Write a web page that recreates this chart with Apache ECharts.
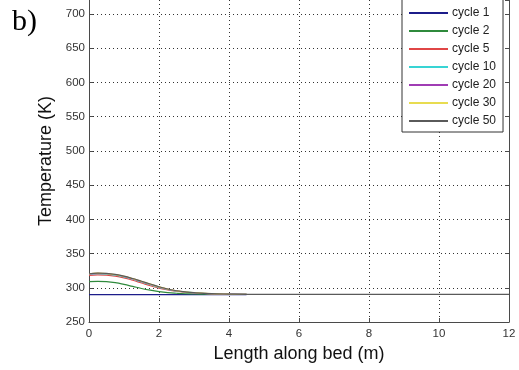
<!DOCTYPE html>
<html>
<head>
<meta charset="utf-8">
<script src="https://cdn.jsdelivr.net/npm/echarts@6/dist/echarts.min.js"></script>
<style>
  html, body { margin: 0; padding: 0; background: #fff; }
  #chart { width: 519px; height: 370px; }
</style>
</head>
<body>
<div id="chart"></div>
<script>
// Bed temperature profiles for successive cycles
const seriesNames = ['cycle 1', 'cycle 2', 'cycle 5', 'cycle 10', 'cycle 20', 'cycle 30', 'cycle 50'];
const seriesColors = ['#1c1c8a', '#2f8a3c', '#e04646', '#38d4d4', '#a03cb4', '#e8dc50', '#5a5a5a'];

// positions along the bed (m)
const lengthPts = [0, 0.25, 0.5, 0.75, 1.0, 1.25, 1.5, 1.75, 2.0, 2.25, 2.5, 2.75, 3.0, 3.5, 4.0, 4.5];
const lengthPtsLong = [0, 0.25, 0.5, 0.75, 1.0, 1.25, 1.5, 1.75, 2.0, 2.25, 2.5, 2.75, 3.0, 3.5, 4.0, 4.5, 6, 8, 10, 12];

// temperatures (K)
const cycle1 = [290, 290, 290, 290, 290, 290, 290, 290, 290, 290, 290, 290, 290, 290, 290, 290];
const cycle2 = [309, 309.5, 309, 307.5, 305, 302, 299, 296.5, 294.5, 293, 292, 291.3, 291, 290.6, 290.5, 290.5];
const cycle5 = [318, 319, 318.5, 317, 314.5, 311, 307, 303, 299.5, 297, 295, 293.5, 292.5, 291.2, 290.7, 290.5];
const cycle10 = [319.5, 320.5, 320, 318.5, 316, 312.5, 308.5, 304.5, 300.5, 297.5, 295.3, 293.7, 292.6, 291.3, 290.7, 290.5];
const cycle20 = [320, 321, 320.5, 319, 316.5, 313, 309, 305, 301, 298, 295.5, 293.8, 292.7, 291.3, 290.7, 290.5];
const cycle30 = [320.3, 321.3, 320.8, 319.3, 316.8, 313.3, 309.3, 305.3, 301.3, 298.1, 295.6, 293.9, 292.8, 291.4, 290.8, 290.5];
const cycle50 = [320.5, 321.5, 321, 319.5, 317, 313.5, 309.5, 305.5, 301.5, 298.2, 295.7, 294, 292.8, 291.4, 290.8, 290.5, 290.5, 290.5, 290.5, 290.5];

const xTicks = { min: 0, max: 12, interval: 2 };
// the upper part of the temperature range runs past the top edge
const yTicks = { min: 250, max: 720.5, interval: 50 };

const allValues = [cycle1, cycle2, cycle5, cycle10, cycle20, cycle30, cycle50];

function pairs(xs, ys) {
  return ys.map((v, i) => [xs[i], v]);
}

const series = allValues.map((vals, i) => ({
  name: seriesNames[i],
  type: 'line',
  symbol: 'none',
  smooth: true,
  data: pairs(vals.length === lengthPtsLong.length ? lengthPtsLong : lengthPts, vals),
  lineStyle: { color: seriesColors[i], width: 1.2 },
  itemStyle: { color: seriesColors[i] },
  z: 3 + i
}));

const font = 'Liberation Sans, Arial, sans-serif';
const axisColor = '#4a4a4a';

const chart = echarts.init(document.getElementById('chart'), null, { renderer: 'canvas' });
chart.setOption({
  animation: false,
  backgroundColor: '#fff',
  grid: { left: 89, right: 10, top: 0, bottom: 48, containLabel: false },
  xAxis: {
    type: 'value',
    min: xTicks.min, max: xTicks.max, interval: xTicks.interval,
    name: 'Length along bed (m)',
    nameLocation: 'middle',
    nameGap: 20,
    nameTextStyle: { fontFamily: font, fontSize: 18, color: '#111' },
    axisLine: { show: true, lineStyle: { color: axisColor, width: 1 } },
    axisTick: { show: true, inside: true, length: 4, lineStyle: { color: axisColor } },
    axisLabel: { fontFamily: font, fontSize: 11.5, color: '#333', margin: 6 },
    splitLine: { show: true, showMinLine: false, showMaxLine: false, lineStyle: { color: '#333', type: [1, 3], width: 1 } }
  },
  yAxis: [{
    type: 'value',
    min: yTicks.min, max: yTicks.max, interval: yTicks.interval,
    name: 'Temperature (K)',
    nameLocation: 'middle',
    nameGap: 24,
    nameTextStyle: { fontFamily: font, fontSize: 18, color: '#111' },
    axisLine: { show: true, lineStyle: { color: axisColor, width: 1 } },
    axisTick: { show: true, inside: true, length: 4, lineStyle: { color: axisColor } },
    axisLabel: { fontFamily: font, fontSize: 11.5, color: '#333', margin: 4, showMaxLabel: false },
    splitLine: { show: true, showMinLine: false, showMaxLine: false, lineStyle: { color: '#333', type: [1, 3], width: 1 } }
  }, {
    type: 'value',
    position: 'right',
    min: yTicks.min, max: yTicks.max, interval: yTicks.interval,
    axisLine: { show: true, lineStyle: { color: axisColor, width: 1 } },
    axisTick: { show: true, inside: true, length: 4, lineStyle: { color: axisColor } },
    axisLabel: { show: false },
    splitLine: { show: false }
  }],
  legend: {
    show: true,
    orient: 'vertical',
    left: 402,
    top: -2,
    padding: [9, 7, 5, 6],
    itemWidth: 39,
    itemHeight: 10,
    itemGap: 6,
    backgroundColor: '#fff',
    borderColor: '#333',
    borderWidth: 1,
    itemStyle: { opacity: 0 },
    textStyle: { fontFamily: font, fontSize: 12, color: '#222', padding: [0, 0, 0, -1] },
    data: seriesNames
  },
  graphic: [{
    type: 'text',
    left: 12,
    top: 7,
    style: { text: 'b)', fontFamily: 'Liberation Serif, Times New Roman, serif', fontSize: 30, fill: '#000' }
  }],
  series: series
});
</script>
</body>
</html>
